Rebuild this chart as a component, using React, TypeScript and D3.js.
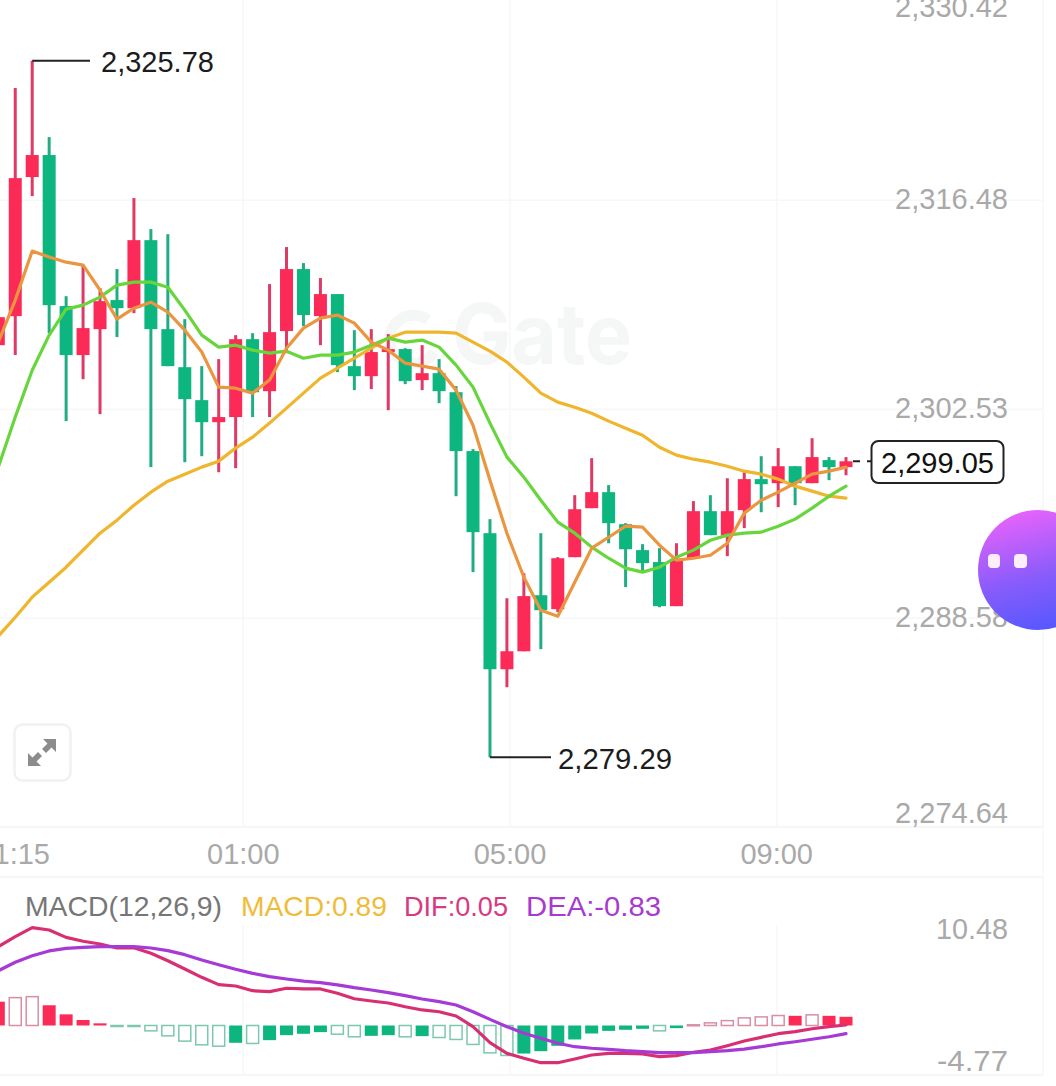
import React from "react";
import * as d3 from "d3";

const highs = [2317.28,2323.96,2325.78,2320.69,2310.07,2312.14,2310.61,2311.88,2316.62,2314.55,2314.21,2308.54,2305.40,2305.87,2307.47,2307.60,2310.88,2313.35,2312.28,2311.28,2310.21,2307.80,2307.87,2307.54,2306.60,2306.80,2305.87,2304.07,2299.86,2295.19,2289.91,2291.58,2294.25,2292.65,2296.79,2299.26,2297.46,2294.92,2293.52,2293.25,2293.58,2296.39,2296.79,2297.92,2298.32,2299.39,2299.93,2298.72,2300.59,2299.33,2299.33];
const lows = [2306.14,2306.14,2316.75,2307.60,2301.73,2304.53,2302.20,2307.34,2308.94,2298.66,2305.40,2298.99,2299.39,2298.32,2298.59,2302.00,2302.00,2306.27,2308.07,2306.80,2305.00,2303.80,2303.87,2302.46,2304.20,2303.80,2302.93,2296.72,2291.65,2279.29,2283.97,2286.37,2286.51,2288.98,2292.65,2295.92,2293.58,2290.65,2291.65,2289.31,2289.38,2292.58,2294.12,2292.72,2294.59,2295.65,2295.99,2296.12,2297.59,2297.79,2298.12];
const bodyTops = [2308.67,2317.95,2319.49,2319.49,2309.41,2307.94,2309.74,2309.81,2313.81,2313.81,2307.87,2305.33,2303.13,2302.00,2307.20,2307.20,2307.67,2311.88,2311.88,2310.21,2310.21,2305.40,2306.34,2306.54,2306.54,2304.93,2304.93,2303.66,2299.73,2294.25,2286.37,2290.05,2290.11,2292.58,2295.85,2296.99,2296.99,2294.85,2293.12,2292.32,2292.45,2295.72,2295.72,2295.72,2297.86,2297.86,2298.72,2298.72,2299.33,2299.13,2299.05];
const bodyBottoms = [2306.80,2308.74,2318.02,2309.47,2306.14,2306.14,2307.87,2309.27,2309.27,2307.87,2305.40,2303.20,2301.66,2301.66,2302.00,2303.66,2303.73,2307.74,2308.81,2308.74,2305.47,2304.73,2304.73,2306.34,2304.40,2304.47,2303.73,2299.73,2294.32,2285.17,2285.17,2286.37,2289.11,2289.18,2292.65,2295.92,2294.92,2293.18,2292.25,2289.38,2289.38,2292.58,2294.12,2294.12,2295.79,2297.52,2297.59,2297.59,2297.59,2298.66,2298.66];
const rising = [1,1,1,0,0,1,1,0,1,0,0,0,0,1,1,0,1,1,0,1,0,0,1,1,0,1,0,0,0,0,1,1,0,1,1,1,0,0,0,0,1,1,0,1,1,0,1,0,1,0,1];

const ma5 = [2307.00,2309.81,2313.08,2312.68,2312.34,2312.14,2310.47,2308.54,2309.27,2309.67,2309.01,2307.80,2306.34,2304.00,2303.93,2303.60,2304.47,2306.60,2307.94,2308.61,2308.81,2308.27,2307.00,2306.47,2305.60,2305.40,2305.20,2303.80,2301.46,2297.79,2294.25,2291.31,2289.11,2288.71,2290.98,2293.25,2293.98,2294.72,2294.65,2293.45,2292.45,2292.58,2292.78,2293.58,2295.59,2296.45,2296.99,2297.59,2298.19,2298.39,2298.66];
const ma10 = [2298.66,2302.00,2305.13,2307.47,2309.21,2309.47,2310.01,2310.81,2311.01,2311.01,2310.67,2309.14,2307.47,2306.67,2306.80,2306.47,2306.27,2306.40,2305.93,2306.14,2306.14,2306.34,2306.80,2307.27,2307.00,2307.14,2306.67,2305.47,2304.00,2301.60,2299.33,2297.99,2296.45,2294.99,2294.25,2293.32,2292.58,2291.92,2291.65,2291.98,2292.65,2293.12,2293.78,2294.12,2294.25,2294.32,2294.72,2295.19,2295.92,2296.72,2297.39];
const ma30 = [2287.38,2288.64,2289.98,2290.98,2291.98,2293.12,2294.25,2295.12,2296.12,2296.99,2297.72,2298.19,2298.66,2299.06,2299.93,2300.66,2301.60,2302.60,2303.60,2304.60,2305.27,2305.93,2306.60,2307.27,2307.67,2307.67,2307.67,2307.60,2307.00,2306.40,2305.67,2304.67,2303.60,2303.00,2302.66,2302.26,2301.73,2301.26,2300.79,2299.99,2299.46,2299.19,2298.99,2298.72,2298.39,2298.19,2297.86,2297.39,2297.06,2296.72,2296.59];

const macdHist = [2.44,2.85,2.95,2.07,1.14,0.56,0.22,-0.07,-0.05,-0.55,-1.06,-1.60,-1.98,-2.12,-1.77,-1.84,-1.50,-0.99,-0.85,-0.68,-0.89,-1.16,-1.06,-0.99,-1.16,-1.09,-1.23,-1.43,-1.94,-2.80,-3.07,-2.87,-2.63,-2.08,-1.43,-0.82,-0.55,-0.44,-0.34,-0.55,-0.27,0.07,0.27,0.50,0.78,0.88,1.02,0.99,1.09,0.99,0.89];
const macdHollow = [0,1,1,0,0,0,0,1,1,1,1,1,1,1,0,1,0,0,0,0,1,1,0,0,1,0,1,1,1,1,1,0,0,0,0,0,0,0,0,1,0,1,1,1,1,1,1,0,1,0,0];
const dif = [8.07,9.09,10.01,9.77,9.02,8.62,8.34,7.93,7.96,7.39,6.63,5.78,4.93,4.18,4.04,3.56,3.46,3.81,3.74,3.74,3.30,2.74,2.51,2.30,1.92,1.59,1.41,0.97,-0.12,-1.76,-2.85,-3.36,-3.81,-3.81,-3.43,-3.02,-2.85,-2.85,-2.92,-3.19,-3.09,-2.74,-2.51,-2.07,-1.59,-1.21,-0.84,-0.63,-0.33,-0.12,0.05];
const dea = [5.61,6.47,7.14,7.63,7.90,8.00,8.07,8.07,8.07,7.93,7.66,7.25,6.70,6.22,5.75,5.34,5.00,4.76,4.55,4.38,4.15,3.87,3.63,3.36,3.05,2.71,2.44,2.10,1.41,0.63,-0.12,-0.80,-1.31,-1.82,-2.17,-2.33,-2.44,-2.58,-2.68,-2.78,-2.78,-2.78,-2.68,-2.58,-2.41,-2.17,-1.89,-1.66,-1.41,-1.15,-0.83];

const priceTicks = [2330.42, 2316.48, 2302.53, 2288.58, 2274.64];
const macdTicks = [10.48, -4.77];
const timeHours = [1, 5, 9];
const timeLabels = ["01:00", "05:00", "09:00"];
const clippedTimeLabel = "1:15";
const highPrice = 2325.78;
const highIndex = 2;
const lowPrice = 2279.29;
const lowIndex = 29;
const lastPrice = 2299.05;
const fmt = d3.format(",.2f");

const RED = "#fb2a57";
const GREEN = "#0cb67e";
const RED_W = "#dd3a66";
const GREEN_W = "#21ad84";
const GRID = "#f7f7f7";
const AXIS = "#a9a9a9";
const FONT = "'Liberation Sans', Arial, sans-serif";

export default function App() {
  const x = d3.scaleLinear().domain([0, 50]).range([-1.7, 846]);
  const y = d3.scaleLinear().domain([2274.64, 2330.42]).range([827, -8.7]);
  const yM = d3.scaleLinear().domain([-4.77, 10.48]).range([1072.1, 923.1]);
  const tx = d3.scaleLinear().domain([1, 9]).range([243.3, 776.7]);
  const line = (vals: number[], s: d3.ScaleLinear<number, number>) =>
    d3.line<number>().x((_, i) => x(i)).y((v) => s(v)).curve(d3.curveLinear)(vals) as string;

  const bodyW = 13;
  const maProps = { fill: "none", strokeWidth: 3.2, strokeLinejoin: "round" as const, strokeLinecap: "round" as const };
  return (
    <svg width={1056} height={1086} viewBox="0 0 1056 1086"
      style={{ position: "absolute", left: 0, top: 0, background: "#fff", fontFamily: FONT }}>
      <defs>
        <linearGradient id="fab" x1="0.35" y1="0" x2="0.6" y2="1">
          <stop offset="0" stopColor="#e863fb" />
          <stop offset="0.55" stopColor="#8a5cfb" />
          <stop offset="1" stopColor="#5558fe" />
        </linearGradient>
      </defs>

      {/* grid */}
      {priceTicks.slice(1).map((t) => (
        <line key={t} x1={0} x2={1043} y1={y(t)} y2={y(t)} stroke={t === 2274.64 ? "#f3f3f3" : GRID} strokeWidth={1.5} />
      ))}
      <line x1={0} x2={1043} y1={877} y2={877} stroke="#f3f3f3" strokeWidth={1.5} />
      <line x1={0} x2={1043} y1={1075} y2={1075} stroke="#f3f3f3" strokeWidth={1.5} />
      <line x1={1043} x2={1043} y1={0} y2={1075} stroke={GRID} strokeWidth={1.5} />
      {timeHours.map((h) => (
        <g key={h}>
          <line x1={tx(h)} x2={tx(h)} y1={0} y2={827} stroke={GRID} strokeWidth={1.5} />
          <line x1={tx(h)} x2={tx(h)} y1={925} y2={1075} stroke={GRID} strokeWidth={1.5} />
        </g>
      ))}

      {/* watermark */}
      <text x={452} y={364} fontSize={84} fontWeight={700} fill="#f5f6f6" fontFamily="Inter, 'Liberation Sans', sans-serif" textLength={180} lengthAdjust="spacingAndGlyphs">Gate</text>
      <path d="M 428 320 A 24 24 0 1 0 434 352" fill="none" stroke="#f5f6f6" strokeWidth={11} />

      {/* candles */}
      {highs.map((h, i) => {
        const up = rising[i] === 1;
        return (
          <g key={i}>
            <line x1={x(i)} x2={x(i)} y1={y(h)} y2={y(lows[i])} stroke={up ? RED_W : GREEN_W} strokeWidth={3} />
            <rect x={x(i) - bodyW / 2} width={bodyW} y={y(bodyTops[i])}
              height={Math.max(y(bodyBottoms[i]) - y(bodyTops[i]), 3)} fill={up ? RED : GREEN} />
          </g>
        );
      })}

      {/* moving averages */}
      <path d={line(ma30, y)} stroke="#efb52c" {...maProps} />
      <path d={line(ma10, y)} stroke="#66d63c" {...maProps} />
      <path d={line(ma5, y)} stroke="#ea9640" {...maProps} />

      {/* high / low markers */}
      <line x1={x(highIndex)} x2={90} y1={y(highPrice)} y2={y(highPrice)} stroke="#222" strokeWidth={2} />
      <text x={101} y={y(highPrice) + 11} fontSize={29} fill="#1c1c1c">{fmt(highPrice)}</text>
      <line x1={x(lowIndex)} x2={551} y1={y(lowPrice)} y2={y(lowPrice)} stroke="#222" strokeWidth={2} />
      <text x={558} y={y(lowPrice) + 11.5} fontSize={29} fill="#1c1c1c" textLength={114} lengthAdjust="spacingAndGlyphs">{fmt(lowPrice)}</text>

      {/* last price */}
      <line x1={853} x2={871} y1={y(lastPrice)} y2={y(lastPrice)} stroke="#222" strokeWidth={2} strokeDasharray="7 7" />
      <rect x={871.5} y={441} width={132} height={42} rx={7} fill="#fff" stroke="#222" strokeWidth={2} />
      <text x={937.5} y={473} fontSize={29} fill="#111" textAnchor="middle">{fmt(lastPrice)}</text>

      {/* price axis labels */}
      {priceTicks.map((t) => {
        const cy = Math.min(Math.max(y(t) - 1.5, 7), 813);
        return (
          <text key={t} x={1008} y={cy + 10} fontSize={29} fill={AXIS} textAnchor="end">{fmt(t)}</text>
        );
      })}

      {/* time axis */}
      <text x={50} y={864} fontSize={29} fill={AXIS} textAnchor="end">{clippedTimeLabel}</text>
      {timeHours.map((h, i) => (
        <text key={h} x={tx(h)} y={864} fontSize={29} fill={AXIS} textAnchor="middle">{timeLabels[i]}</text>
      ))}

      {/* expand button */}
      <rect x={14.5} y={724.5} width={56} height={56} rx={8} fill="#fff" stroke="#f1f1f1" strokeWidth={2.5} />
      <g fill="#8c8c8c" stroke="none">
        <path d="M 43 739 L 56 739 L 56 752 L 51.5 747.5 L 46 753 L 42 749 L 47.5 743.5 Z" />
        <path d="M 28 766 L 28 753 L 32.5 757.5 L 38 752 L 42 756 L 36.5 761.5 L 41 766 Z" />
      </g>

      {/* MACD header */}
      <text x={25} y={916} fontSize={28} fill="#767676" textLength={197} lengthAdjust="spacingAndGlyphs">MACD(12,26,9)</text>
      <text x={241} y={916} fontSize={28} fill="#efbc3a" textLength={146} lengthAdjust="spacingAndGlyphs">MACD:0.89</text>
      <text x={404} y={916} fontSize={28} fill="#d83a82" textLength={104} lengthAdjust="spacingAndGlyphs">DIF:0.05</text>
      <text x={526} y={916} fontSize={28} fill="#a83ad0" textLength={135} lengthAdjust="spacingAndGlyphs">DEA:-0.83</text>

      {/* MACD histogram */}
      {macdHist.map((v, i) => {
        const up = v >= 0;
        const top = yM(Math.max(v, 0));
        const h = Math.abs(yM(v) - yM(0));
        const hollow = macdHollow[i] === 1;
        const col = up ? (hollow ? "#d98ea4" : RED) : hollow ? "#7cc8ae" : GREEN;
        return hollow ? (
          <rect key={i} x={x(i) - 6} y={top} width={12} height={Math.max(h, 1)} fill="#fff" stroke={col} strokeWidth={1.5} />
        ) : (
          <rect key={i} x={x(i) - 6.5} y={top} width={13} height={h} fill={up ? RED : GREEN} />
        );
      })}
      <path d={line(dif, yM)} stroke="#d82f73" {...maProps} />
      <path d={line(dea, yM)} stroke="#a53ad6" {...maProps} />
      {macdTicks.map((t) => (
        <text key={t} x={1008} y={t > 0 ? 939 : 1071} fontSize={29} fill={AXIS} textAnchor="end"
          textLength={t > 0 ? 72 : 71} lengthAdjust="spacingAndGlyphs">{d3.format(".2f")(t).replace("−", "-")}</text>
      ))}

      {/* assistant bubble */}
      <rect x={978} y={510} width={120} height={120} rx={60} fill="url(#fab)" />
      <rect x={988} y={554} width={12} height={14} rx={4} fill="#fdeefc" />
      <rect x={1014} y={554} width={13} height={14} rx={4} fill="#fdeefc" />
    </svg>
  );
}
